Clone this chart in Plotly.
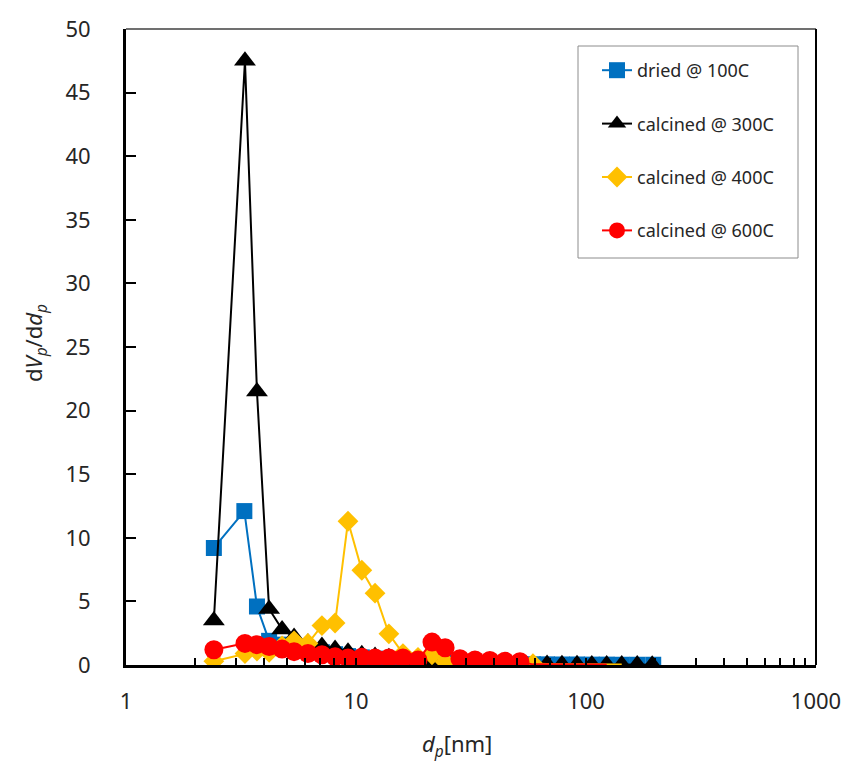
import plotly.graph_objects as go

# ---- data ----
dried_x = [2.41, 3.27, 3.71, 4.19, 4.77, 5.38, 6.18, 7.11, 8.11, 9.23, 10.6, 12.1, 13.9, 16.0,
           18.6, 21.4, 24.4, 28.3, 32.9, 38.2, 44.4, 51.6, 58.8, 67.7, 78.6, 91.4, 106, 123,
           143, 167, 196]
dried_y = [9.2, 12.1, 4.6, 1.9, 1.6, 1.4, 1.2, 1.0, 0.85, 0.7, 0.6, 0.5, 0.42, 0.35,
           0.3, 0.25, 0.2, 0.16, 0.13, 0.1, 0.08, 0.07, 0.06, 0.05, 0.04, 0.04, 0.03, 0.03,
           0.02, 0.02, 0.02]

c300_x = [2.41, 3.29, 3.71, 4.19, 4.77, 5.38, 6.18, 7.11, 8.11, 9.23, 10.6, 12.1, 13.9, 16.0,
          18.6, 21.4, 24.4, 28.3, 32.9, 38.2, 44.4, 51.6, 58.8, 67.7, 78.6, 91.4, 106, 123,
          143, 167, 194]
c300_y = [3.5, 47.5, 21.5, 4.4, 2.8, 2.2, 1.75, 1.5, 1.25, 1.05, 0.85, 0.7, 0.6, 0.5,
          0.4, 0.33, 0.27, 0.22, 0.18, 0.15, 0.12, 0.1, 0.08, 0.07, 0.06, 0.05, 0.04, 0.04,
          0.03, 0.03, 0.02]

c400_x = [2.41, 3.29, 3.71, 4.19, 4.77, 5.38, 6.18, 7.11, 8.11, 9.23, 10.6, 12.1, 13.9, 16.0,
          18.6, 21.4, 24.4, 28.3, 32.9, 38.2, 44.4, 51.6, 58.8]
c400_y = [0.3, 0.9, 1.1, 1.0, 1.5, 1.9, 1.7, 3.1, 3.3, 11.3, 7.45, 5.65, 2.45, 0.9,
          0.6, 0.8, 0.25, 0.2, 0.15, 0.12, 0.1, 0.08, 0.1]
c400_tail_x = [67.7, 78.6, 91.4, 106, 123, 143]
c400_tail_y = [0.06, 0.05, 0.05, 0.04, 0.04, 0.03]

c600_x = [2.41, 3.29, 3.71, 4.19, 4.77, 5.38, 6.18, 7.11, 8.11, 9.23, 10.6, 12.1, 13.9, 16.0,
          18.6, 21.4, 24.4, 28.3, 32.9, 38.2, 44.4, 51.6]
c600_y = [1.2, 1.7, 1.6, 1.45, 1.25, 1.05, 0.9, 0.8, 0.65, 0.55, 0.6, 0.55, 0.55, 0.55,
          0.4, 1.8, 1.35, 0.5, 0.4, 0.35, 0.3, 0.25]
c600_tail_x = [58.8, 67.7, 78.6, 91.4, 106, 123]
c600_tail_y = [0.05, 0.05, 0.04, 0.04, 0.03, 0.03]

names = ["dried @ 100C", "calcined @ 300C", "calcined @ 400C", "calcined @ 600C"]
x_tickvals = [1, 10, 100, 1000]
x_ticktext = ["1", "10", "100", "1000"]
y_tickvals = [0, 5, 10, 15, 20, 25, 30, 35, 40, 45, 50]

BLUE, BLACK, YELLOW, RED = "#0070C0", "#000000", "#FFC000", "#FF0000"
FONT = "Noto Sans"

fig = go.Figure()
fig.add_trace(go.Scatter(x=dried_x, y=dried_y, mode="lines+markers", name=names[0],
                         legendgroup="a",
                         line=dict(color=BLUE, width=2),
                         marker=dict(symbol="square", size=16, color=BLUE)))
fig.add_trace(go.Scatter(x=c300_x, y=c300_y, mode="lines+markers", name=names[1],
                         legendgroup="b",
                         line=dict(color=BLACK, width=2),
                         marker=dict(symbol="triangle-up", size=19, color=BLACK)))
fig.add_trace(go.Scatter(x=c400_x, y=c400_y, mode="lines+markers", name=names[2],
                         legendgroup="c",
                         line=dict(color=YELLOW, width=2),
                         marker=dict(symbol="diamond", size=16, color=YELLOW)))
fig.add_trace(go.Scatter(x=[c400_x[-1]] + c400_tail_x, y=[c400_y[-1]] + c400_tail_y,
                         mode="lines", showlegend=False, legendgroup="c",
                         line=dict(color=YELLOW, width=2), hoverinfo="skip"))
fig.add_trace(go.Scatter(x=c600_x, y=c600_y, mode="lines+markers", name=names[3],
                         legendgroup="d",
                         line=dict(color=RED, width=2),
                         marker=dict(symbol="circle", size=19, color=RED)))
fig.add_trace(go.Scatter(x=[c600_x[-1]] + c600_tail_x, y=[c600_y[-1]] + c600_tail_y,
                         mode="lines", showlegend=False, legendgroup="d",
                         line=dict(color=RED, width=2), hoverinfo="skip"))

L, R, T, B = 126, 30, 29, 104
W, H = 846, 769
pw, ph = W - L - R, H - T - B

def px2x(p):
    return (p - L) / pw

def px2y(p):
    return (H - B - p) / ph

fig.update_layout(
    width=W, height=H,
    margin=dict(l=L, r=R, t=T, b=B, pad=0, autoexpand=False),
    paper_bgcolor="white", plot_bgcolor="white",
    font=dict(family=FONT, size=22, color="#262626"),
    showlegend=True,
    legend=dict(x=px2x(597), y=px2y(52), xanchor="left", yanchor="top",
                bgcolor="rgba(255,255,255,0)", borderwidth=0,
                font=dict(family=FONT, size=18, color="#262626"),
                tracegroupgap=27, traceorder="grouped"),
    xaxis=dict(type="log", range=[0, 3], showgrid=False, zeroline=False,
               automargin=False,
               showline=True, linecolor="black", linewidth=3,
               tickvals=x_tickvals, ticktext=x_ticktext,
               ticks="inside", ticklen=7, tickwidth=2, tickcolor="black",
               ticklabelstandoff=15,
               minor=dict(ticks="inside", ticklen=7, tickwidth=2, tickcolor="black",
                          dtick="D1", showgrid=False),
               tickfont=dict(size=22)),
    yaxis=dict(range=[0, 50], showgrid=False, zeroline=False,
               automargin=False,
               showline=True, linecolor="black", linewidth=3,
               tickvals=y_tickvals,
               ticks="inside", ticklen=10, tickwidth=2, tickcolor="black",
               ticklabelstandoff=28,
               tickfont=dict(size=22)),
)

# thin top/right frame lines and legend box
fig.add_shape(type="line", xref="paper", yref="paper", x0=0, x1=1, y0=1, y1=1,
              line=dict(color="#404040", width=1.5))
fig.add_shape(type="line", xref="paper", yref="paper", x0=1, x1=1, y0=0, y1=1,
              line=dict(color="black", width=2))
fig.add_shape(type="rect", xref="paper", yref="paper",
              x0=px2x(578), x1=px2x(798), y0=px2y(258), y1=px2y(46),
              line=dict(color="#8c8c8c", width=1), fillcolor="rgba(0,0,0,0)", layer="below")

# axis titles
fig.add_annotation(text="d<i>V</i><sub><i>p</i></sub>/d<i>d</i><sub><i>p</i></sub>",
                   xref="paper", yref="paper", x=px2x(35), y=px2y(343),
                   xanchor="center", yanchor="middle",
                   textangle=-90, showarrow=False, font=dict(size=22, family=FONT))
fig.add_annotation(text="<i>d</i><sub><i>p</i></sub>[nm]",
                   xref="paper", yref="paper", x=px2x(457), y=px2y(745),
                   xanchor="center", yanchor="middle",
                   showarrow=False, font=dict(size=22, family=FONT))

fig.write_html("out.html", config={"displayModeBar": False})

# remove the default 8px page margin so the figure sits at the window origin
with open("out.html", "r", encoding="utf-8") as f:
    html = f.read()
html = html.replace("<head>", "<head><style>html,body{margin:0;padding:0;overflow:hidden;}</style>", 1)
with open("out.html", "w", encoding="utf-8") as f:
    f.write(html)
